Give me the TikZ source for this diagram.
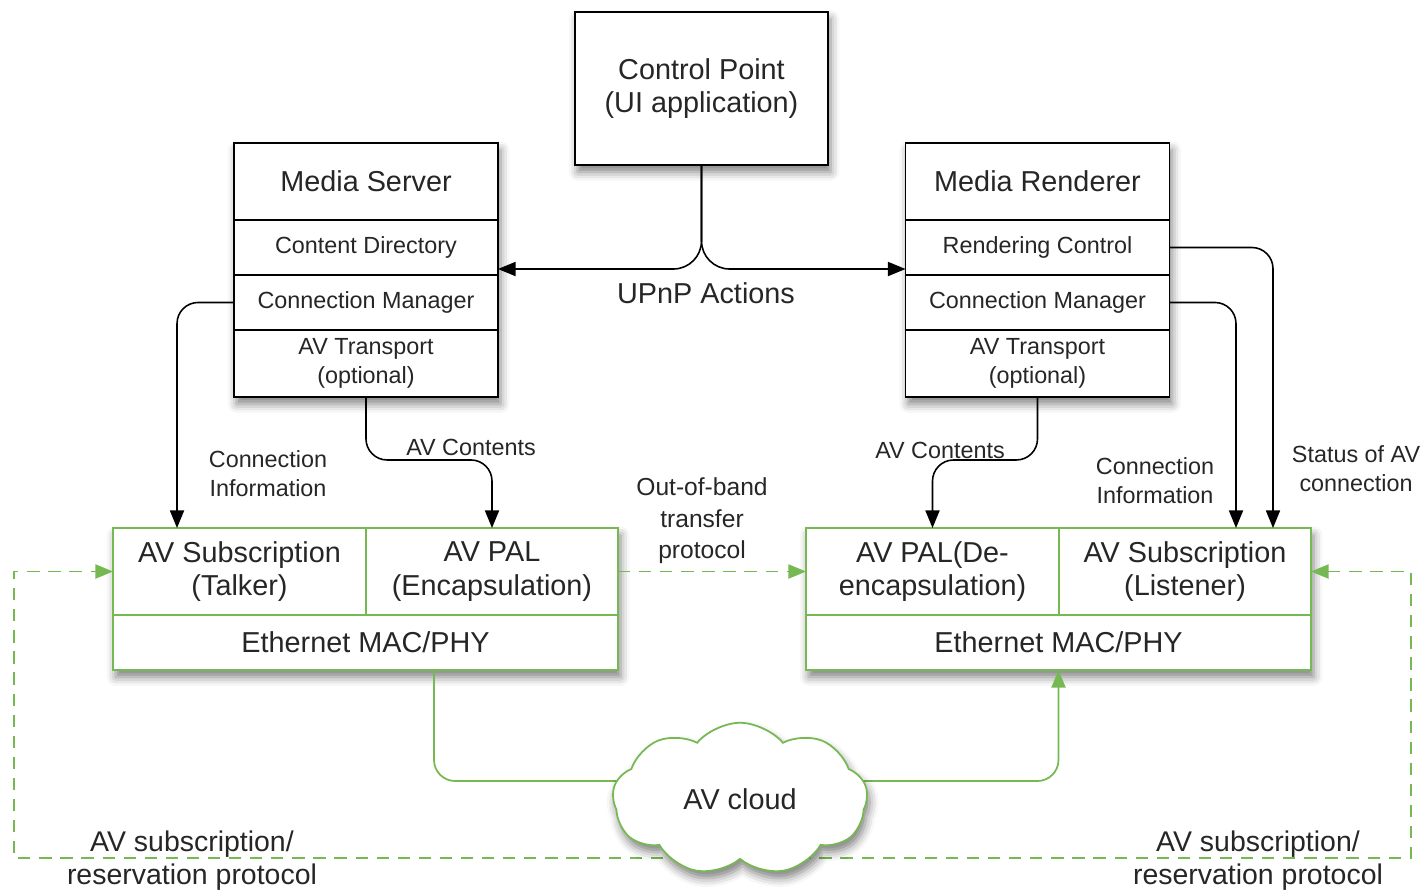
\documentclass[tikz,border=0pt]{standalone}
\usepackage{fontspec}
\setmainfont{Liberation Sans}
\usetikzlibrary{arrows.meta, positioning, fit, shapes.symbols, shadows, shadows.blur}
\pgfdeclarelayer{background}
\pgfsetlayers{background,main}
\definecolor{avgreen}{RGB}{118,184,82}
\newcommand{\BigTxt}{\fontsize{16.4}{19.3}\selectfont}
\newcommand{\SmallTxt}{\fontsize{13.3}{16.5}\selectfont}
\tikzset{
    every node/.append style={text=black!85},
    box/.style={draw, line width=1pt, fill=white, inner sep=0pt, outer sep=0pt, align=center, minimum width=5.28cm},
    cell/.style={draw=avgreen, line width=1pt, fill=white, inner sep=0pt, outer sep=0pt, align=center, font=\BigTxt},
    shade/.style={inner sep=0pt, fill=white, blur shadow={shadow xshift=1.5pt, shadow yshift=-4pt, shadow blur radius=5pt, shadow opacity=50}},
    link/.style={-{Triangle[length=10pt, width=8pt]}, line width=0.9pt, rounded corners=12pt},
    gline/.style={draw=avgreen, line width=1pt, rounded corners=12pt},
    gdash/.style={draw=avgreen, line width=1pt, dash pattern=on 7pt off 5pt},
    lbl/.style={align=center, font=\SmallTxt},
}

\begin{document}
\begin{tikzpicture}[x=0.02cm, y=-0.02cm]
    \useasboundingbox (0,0) rectangle (1426,890);

    % control point
    \node[box, font=\BigTxt, minimum width=5.06cm, minimum height=3.06cm, shade] (cp) at (701.5,88.5) {Control Point\\(UI application)};

    % media server
    \node[box, font=\BigTxt, minimum height=1.54cm] (ms) at (366,181.5) {Media Server};
    \node[box, font=\SmallTxt, minimum height=1.1cm, below=0pt of ms] (mscd) {Content Directory};
    \node[box, font=\SmallTxt, minimum height=1.1cm, below=0pt of mscd] (mscm) {Connection Manager};
    \node[box, font=\SmallTxt, minimum height=1.34cm, below=0pt of mscm] (msav) {AV Transport\\(optional)};

    % media renderer
    \node[box, font=\BigTxt, minimum height=1.54cm] (mr) at (1037.5,181.5) {Media Renderer};
    \node[box, font=\SmallTxt, minimum height=1.1cm, below=0pt of mr] (mrrc) {Rendering Control};
    \node[box, font=\SmallTxt, minimum height=1.1cm, below=0pt of mrrc] (mrcm) {Connection Manager};
    \node[box, font=\SmallTxt, minimum height=1.34cm, below=0pt of mrcm] (mrav) {AV Transport\\(optional)};

    % talker side
    \node[cell, minimum width=5.06cm, minimum height=1.74cm] (talker) at (239.5,571.5) {AV Subscription\\(Talker)};
    \node[cell, minimum width=5.04cm, minimum height=1.74cm] (pal) at (492,571.5) {AV PAL\\(Encapsulation)};
    \node[cell, minimum width=10.1cm, minimum height=1.1cm] (eth) at (365.5,642.5) {Ethernet MAC/PHY};

    % listener side
    \node[cell, minimum width=5.06cm, minimum height=1.74cm] (depal) at (932.5,571.5) {AV PAL(De-\\encapsulation)};
    \node[cell, minimum width=5.04cm, minimum height=1.74cm] (listener) at (1185,571.5) {AV Subscription\\(Listener)};
    \node[cell, minimum width=10.1cm, minimum height=1.1cm] (eth2) at (1058.5,642.5) {Ethernet MAC/PHY};

    \node[cloud, cloud puffs=9, cloud puff arc=100, aspect=1.7, draw=avgreen, line width=1pt, fill=white,
          minimum width=5.1cm, minimum height=3.05cm, font=\BigTxt,
          blur shadow={shadow xshift=1.5pt, shadow yshift=-4pt, shadow blur radius=5pt, shadow opacity=50}] (cloud) at (740,799) {AV cloud};

    \coordinate (upnp) at (702,269);
    \coordinate (lowr) at (1411,858);
    \coordinate (lowl) at (14,858);

    \begin{pgfonlayer}{background}
      \node[shade, fit=(ms)(msav)] (msfit) {};
      \node[shade, fit=(mr)(mrav)] (mrfit) {};
      \node[shade, fit=(talker)(pal)(eth)] (talkfit) {};
      \node[shade, fit=(depal)(listener)(eth2)] (listfit) {};

      \draw[gdash, {Triangle[length=10pt, width=8pt]}-{Triangle[length=10pt, width=8pt]}]
        (listener.east) -| (lowr) -- (lowl) |- (talker.west);
      \draw[gline] ([xshift=1.37cm]eth.south) |- ([yshift=0.36cm]cloud.center);
      \draw[gline, -{Triangle[length=10pt, width=8pt]}] ([yshift=0.36cm]cloud.center) -| (eth2.south);
    \end{pgfonlayer}

    % upnp actions
    \draw[link, rounded corners=16pt] (cp.south) |- (mscd.east |- upnp);
    \draw[link, rounded corners=16pt] (cp.south) |- (mrrc.west |- upnp);
    \node[font=\BigTxt] (upnplbl) at (706,293) {UPnP Actions};

    % server side
    \draw[link] (mscm.west) -| ([xshift=-1.25cm]talker.north);
    \draw[link] (msav.south) -- ++(0,63) -| (pal.north);
    \node[lbl] (msinfo) at (268,474) {Connection\\Information};
    \node[lbl] (mscont) at (471,447) {AV Contents};

    % renderer side
    \draw[link] (mrav.south) -- ++(0,63) -| (depal.north);
    \draw[link] (mrcm.east) -| ([xshift=1.02cm]listener.north);
    \draw[link] (mrrc.east) -| ([xshift=1.76cm]listener.north);
    \node[lbl] (mrcont) at (940,450) {AV Contents};
    \node[lbl] (mrinfo) at (1155,481) {Connection\\Information};
    \node[lbl] (mrstat) at (1356,469) {Status of AV\\connection};

    % out-of-band
    \draw[gdash, -{Triangle[length=10pt, width=8pt]}] (pal.east) -- (depal.west);
    \node[align=center, font=\fontsize{14}{18}\selectfont] (oob) at (702,521) {Out-of-band\\transfer\\protocol};

    \node[align=center, font=\fontsize{16.2}{18.7}\selectfont] (reslft) at (192,861) {AV subscription/\\reservation protocol};
    \node[align=center, font=\fontsize{16.2}{18.7}\selectfont] (resrgt) at (1258,861) {AV subscription/\\reservation protocol};
\end{tikzpicture}
\end{document}
